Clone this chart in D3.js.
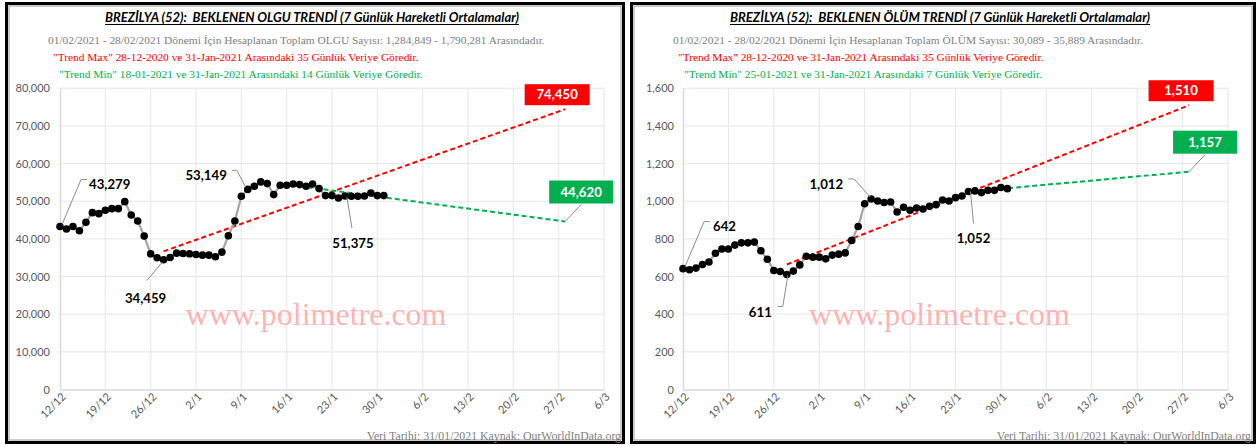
<!DOCTYPE html>
<html>
<head>
<meta charset="utf-8">
<script src="https://cdn.jsdelivr.net/npm/d3@7"></script>
<style>
  body { margin: 0; background: #fff; }
  svg { display: block; }
</style>
</head>
<body>
<svg width="1258" height="446"></svg>
<script>
// ---- data ----
var startDate = "2020-12-12";   // first day of both series (daily values)

var xTickDates = ["2020-12-12","2020-12-19","2020-12-26","2021-01-02","2021-01-09","2021-01-16",
                  "2021-01-23","2021-01-30","2021-02-06","2021-02-13","2021-02-20","2021-02-27","2021-03-06"];
var xTickLabels = ["12/12","19/12","26/12","2/1","9/1","16/1","23/1","30/1","6/2","13/2","20/2","27/2","6/3"];

var olguYTicks = [0,10000,20000,30000,40000,50000,60000,70000,80000];
var olumYTicks = [0,200,400,600,800,1000,1200,1400,1600];

// 7 günlük hareketli ortalama, 12/12/2020 - 31/01/2021
var olgu = [43279,42620,43300,42170,44390,46970,46700,47590,48030,48030,
            49900,46350,44750,40750,36040,34980,34459,35070,36220,36130,
            36040,35870,35690,35690,35250,36490,40840,44750,51320,53149,
            53980,55140,54690,51760,54250,54250,54600,54420,53980,54600,
            53360,51495,51495,50870,51375,51320,51320,51400,52200,51500,51500];

var olum = [642,636,645,664,677,724,746,746,767,779,
            779,783,737,692,632,627,611,629,662,708,
            703,703,694,714,719,726,792,866,987,1012,
            1001,993,996,943,968,952,964,959,973,982,
            1007,1001,1019,1028,1052,1055,1046,1058,1058,1073,1067];

var olguTrendMax = [["2020-12-28",36700],["2021-02-28",74450]];
var olguTrendMin = [["2021-01-18",54000],["2021-02-28",44620]];
var olumTrendMax = [["2020-12-28",664],["2021-02-28",1510]];
var olumTrendMin = [["2021-01-25",1050],["2021-02-28",1157]];

var olguLabelDays = [0,16,29,44];
var olumLabelDays = [0,16,29,44];

// ---- setup ----
var parse = d3.timeParse("%Y-%m-%d");
var fmt = d3.format(",");
var svg = d3.select("svg");
var day0 = parse(startDate);

var LABEL_FONT = "Lato, 'Open Sans', sans-serif";
var SERIF = "'Liberation Serif', 'Times New Roman', serif";

// leader line / label placement (pixel offsets from the point)
var olguNotes = [
  {path: [[2,-2],[21,-47],[27,-47]], tx: 29, ty: -42, anchor: "start"},
  {path: [[-1,2],[-17,21]], tx: -18, ty: 38, anchor: "middle"},
  {path: [[-2,-2],[-11,-19],[-16,-19]], tx: -21, ty: -14, anchor: "end"},
  {path: [[2,1],[7,32]], tx: 8, ty: 47, anchor: "middle"}
];
var olumNotes = [
  {path: [[2,-2],[21,-47],[27,-47]], tx: 30, ty: -42, anchor: "start"},
  {path: [[1,1],[-4,32],[-9,32]], tx: -15, ty: 38, anchor: "end"},
  {path: [[-1,-2],[-17,-20],[-23,-20]], tx: -28, ty: -15, anchor: "end"},
  {path: [[2,0],[5,32]], tx: 5, ty: 47, anchor: "middle"}
];

function drawPanel(p) {
  var g = svg.append("g");

  // frame (thick-thin)
  g.append("rect").attr("x", p.left + 1.5).attr("y", 3.5)
    .attr("width", p.right - p.left - 3).attr("height", 439)
    .attr("fill", "#fff").attr("stroke", "#000").attr("stroke-width", 3);
  g.append("rect").attr("x", p.left + 4).attr("y", 6)
    .attr("width", p.right - p.left - 8).attr("height", 434)
    .attr("fill", "none").attr("stroke", "#999").attr("stroke-width", 1);

  // title
  var cx = (p.left + p.right) / 2 - 3;
  g.append("text")
    .attr("x", cx).attr("y", 22)
    .attr("text-anchor", "middle")
    .style("white-space", "pre")
    .attr("font-family", LABEL_FONT).attr("font-weight", "bold").attr("font-style", "italic")
    .attr("font-size", 14)
    .attr("textLength", p.titleWidth).attr("lengthAdjust", "spacingAndGlyphs")
    .attr("fill", "#000")
    .text(p.title);
  g.append("line")
    .attr("x1", cx - p.titleWidth / 2).attr("x2", cx + p.titleWidth / 2)
    .attr("y1", 24.5).attr("y2", 24.5)
    .attr("stroke", "#000").attr("stroke-width", 1);

  var subs = [
    {text: p.sub1, color: "#808080", x: 43, y: 44},
    {text: p.sub2, color: "#ff0000", x: 48, y: 61},
    {text: p.sub3, color: "#00b050", x: 54, y: 78}
  ];
  g.selectAll(".sub").data(subs).enter().append("text")
    .attr("x", function(d) { return p.left + d.x; })
    .attr("y", function(d) { return d.y; })
    .attr("font-family", SERIF).attr("font-size", 11.4)
    .attr("fill", function(d) { return d.color; })
    .text(function(d) { return d.text; });

  // scales
  var x = d3.scaleTime()
    .domain([parse(xTickDates[0]), parse(xTickDates[xTickDates.length - 1])])
    .range([p.x0, p.x1]);
  var y = d3.scaleLinear()
    .domain([0, p.yTicks[p.yTicks.length - 1]])
    .range([389.5, 88.3]);

  // grid
  g.append("g").selectAll("line").data(p.yTicks.slice(1)).enter().append("line")
    .attr("x1", p.x0).attr("x2", p.x1)
    .attr("y1", function(d) { return y(d); }).attr("y2", function(d) { return y(d); })
    .attr("stroke", "#e6e6e6").attr("stroke-width", 1);
  g.append("g").selectAll("line").data(xTickDates.slice(1)).enter().append("line")
    .attr("x1", function(d) { return x(parse(d)); }).attr("x2", function(d) { return x(parse(d)); })
    .attr("y1", y.range()[0]).attr("y2", y.range()[1])
    .attr("stroke", "#e6e6e6").attr("stroke-width", 1);

  // axes
  var yAxis = g.append("g")
    .attr("transform", "translate(" + p.x0 + ",0)")
    .call(d3.axisLeft(y).tickValues(p.yTicks).tickFormat(fmt).tickSize(0).tickPadding(p.yPad));
  yAxis.select(".domain").attr("stroke", "#d9d9d9").attr("stroke-width", 1.5);
  yAxis.selectAll("text").attr("font-family", LABEL_FONT).attr("font-size", 11).attr("fill", "#595959");

  var xAxis = g.append("g")
    .attr("transform", "translate(0," + y(0) + ")")
    .call(d3.axisBottom(x).tickValues(xTickDates.map(parse))
      .tickFormat(function(d, i) { return xTickLabels[i]; }).tickSize(0));
  xAxis.select(".domain").attr("stroke", "#d9d9d9").attr("stroke-width", 1.5);
  xAxis.selectAll("text")
    .attr("font-family", LABEL_FONT).attr("font-size", 11).attr("fill", "#595959")
    .attr("text-anchor", "end")
    .attr("dy", null).attr("y", null)
    .attr("transform", "translate(6,8) rotate(-45)");

  // watermark
  g.append("text")
    .attr("x", (p.x0 + p.x1) / 2 - 16).attr("y", 325)
    .attr("text-anchor", "middle")
    .attr("font-family", SERIF).attr("font-size", 32)
    .attr("fill", "#ff9a9a").attr("fill-opacity", 0.75)
    .text("www.polimetre.com");

  // trend lines
  var tline = d3.line()
    .x(function(d) { return x(parse(d[0])); })
    .y(function(d) { return y(d[1]); });
  g.append("path").datum(p.trendMax).attr("d", tline)
    .attr("fill", "none").attr("stroke", "#ff0000").attr("stroke-width", 2)
    .attr("stroke-dasharray", "5,3");
  g.append("path").datum(p.trendMin).attr("d", tline)
    .attr("fill", "none").attr("stroke", "#00b050").attr("stroke-width", 2)
    .attr("stroke-dasharray", "5,3");

  // data line + dots
  var dx = function(d, i) { return x(d3.timeDay.offset(day0, i)); };
  var line = d3.line().x(dx).y(function(d) { return y(d); });
  g.append("path").datum(p.values).attr("d", line)
    .attr("fill", "none").attr("stroke", "#a6a6a6").attr("stroke-width", 2.25);
  g.append("g").selectAll("circle").data(p.values).enter().append("circle")
    .attr("cx", dx).attr("cy", function(d) { return y(d); })
    .attr("r", 3.8).attr("fill", "#000");

  // point labels
  p.labelDays.forEach(function(di, k) {
    var n = p.notes[k];
    var px = dx(null, di), py = y(p.values[di]);
    var pts = n.path.map(function(o) { return [px + o[0], py + o[1]]; });
    g.append("path").attr("d", d3.line()(pts))
      .attr("fill", "none").attr("stroke", "#8c8c8c").attr("stroke-width", 1);
    g.append("text")
      .attr("x", px + n.tx).attr("y", py + n.ty).attr("dy", "0.36em")
      .attr("text-anchor", n.anchor)
      .attr("font-family", LABEL_FONT).attr("font-weight", "bold").attr("font-size", 13.2)
      .attr("fill", "#000")
      .text(fmt(p.values[di]));
  });

  // end-of-trend boxes
  var mx = p.trendMax[1], mn = p.trendMin[1];
  var ex = x(parse(mx[0])), ey = y(mx[1]);
  g.append("rect").attr("x", ex - 8 - 32.5).attr("y", ey - 4 - 21)
    .attr("width", 65).attr("height", 21).attr("fill", "#ff0000");
  g.append("text").attr("x", ex - 8).attr("y", ey - 14.5).attr("dy", "0.36em")
    .attr("text-anchor", "middle")
    .attr("font-family", LABEL_FONT).attr("font-weight", "bold").attr("font-size", 13.2)
    .attr("fill", "#fff").text(fmt(mx[1]));

  var gx = x(parse(mn[0])), gy = y(mn[1]);
  g.append("path").attr("d", d3.line()([[gx, gy], [gx + 16, gy - 17]]))
    .attr("stroke", "#8c8c8c").attr("stroke-width", 1).attr("fill", "none");
  g.append("rect").attr("x", gx + 16 - 32).attr("y", gy - 18 - 23)
    .attr("width", 64).attr("height", 23).attr("fill", "#00b050");
  g.append("text").attr("x", gx + 16).attr("y", gy - 29.5).attr("dy", "0.36em")
    .attr("text-anchor", "middle")
    .attr("font-family", LABEL_FONT).attr("font-weight", "bold").attr("font-size", 13.2)
    .attr("fill", "#fff").text(fmt(mn[1]));

  // footer
  g.append("text")
    .attr("x", p.footX).attr("y", 439.5)
    .attr("text-anchor", "end")
    .attr("font-family", SERIF).attr("font-size", 11.8)
    .attr("fill", "#808080")
    .text("Veri Tarihi: 31/01/2021 Kaynak: OurWorldInData.org");
}

drawPanel({
  left: 5, right: 625, x0: 60, x1: 604, yPad: 10, footX: 621, titleWidth: 414,
  title: "BREZİLYA (52):  BEKLENEN OLGU TRENDİ (7 Günlük Hareketli Ortalamalar)",
  sub1: "01/02/2021 - 28/02/2021 Dönemi İçin Hesaplanan Toplam OLGU Sayısı: 1,284,849 - 1,790,281 Arasındadır.",
  sub2: "\"Trend Max\" 28-12-2020 ve 31-Jan-2021 Arasındaki 35 Günlük Veriye Göredir.",
  sub3: "\"Trend Min\" 18-01-2021 ve 31-Jan-2021 Arasındaki 14 Günlük Veriye Göredir.",
  yTicks: olguYTicks, values: olgu, trendMax: olguTrendMax, trendMin: olguTrendMin,
  labelDays: olguLabelDays, notes: olguNotes
});

drawPanel({
  left: 630, right: 1256, x0: 683, x1: 1228, yPad: 9, footX: 1251, titleWidth: 420,
  title: "BREZİLYA (52):  BEKLENEN ÖLÜM TRENDİ (7 Günlük Hareketli Ortalamalar)",
  sub1: "01/02/2021 - 28/02/2021 Dönemi İçin Hesaplanan Toplam ÖLÜM Sayısı: 30,089 - 35,889 Arasındadır.",
  sub2: "\"Trend Max\" 28-12-2020 ve 31-Jan-2021 Arasındaki 35 Günlük Veriye Göredir.",
  sub3: "\"Trend Min\" 25-01-2021 ve 31-Jan-2021 Arasındaki 7 Günlük Veriye Göredir.",
  yTicks: olumYTicks, values: olum, trendMax: olumTrendMax, trendMin: olumTrendMin,
  labelDays: olumLabelDays, notes: olumNotes
});
</script>
</body>
</html>
